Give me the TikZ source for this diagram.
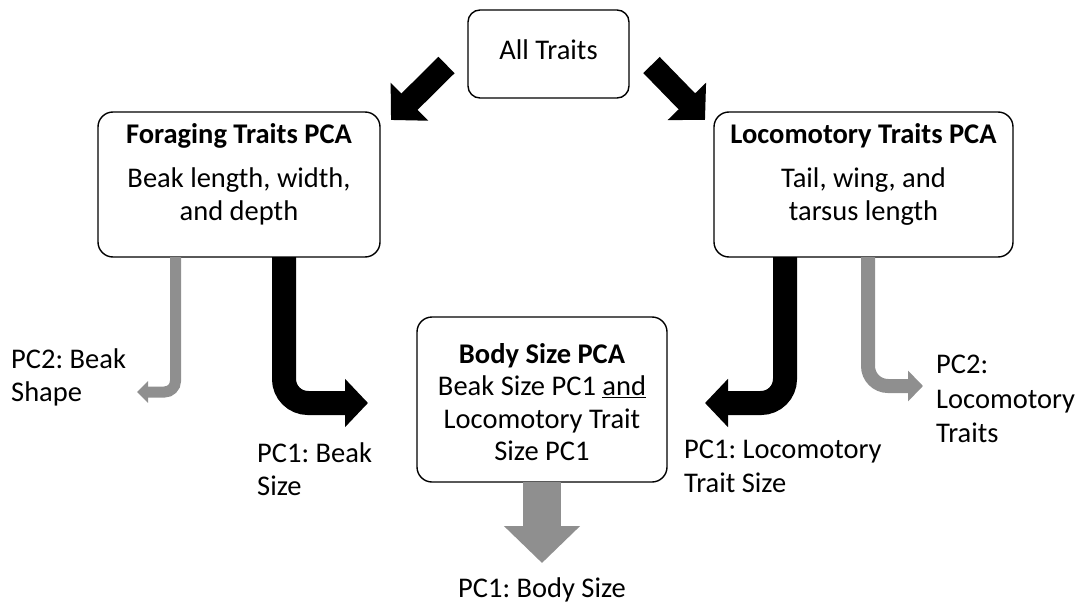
\documentclass[tikz,border=0pt]{standalone}
\usepackage{fontspec}
\setmainfont{Carlito}
\usetikzlibrary{arrows.meta}
\definecolor{pcgray}{RGB}{143,143,143}
\frenchspacing
\begin{document}
\begin{tikzpicture}[x=1pt,y=-1pt,
  box/.style={draw=black,line width=1.4pt,rounded corners=15pt,fill=white,inner sep=0pt},
  ln/.style={font=\fontsize{28.5}{34}\selectfont,inner sep=0pt,anchor=base},
  lnl/.style={ln,anchor=base west},
  diagarrow/.style={draw=black,line width=23pt,-{Triangle[length=26pt,width=52pt]}},
  bentblack/.style={draw=black,line width=24pt,rounded corners=24pt,-{Triangle[length=23pt,width=47pt]}},
  bentgray/.style={draw=pcgray,line width=#1,rounded corners=14pt}
]
\useasboundingbox (0,0) rectangle (1081,607);

% boxes
\node[box,rounded corners=12pt,minimum width=161pt,minimum height=88pt] (all) at (548.5,54) {};
\node[box,minimum width=282pt,minimum height=145pt] (forage) at (239,184.5) {};
\node[box,minimum width=299pt,minimum height=145pt] (loco) at (863.5,184.5) {};
\node[box,minimum width=250pt,minimum height=165pt] (body) at (542,399.5) {};

% label coordinates
\coordinate (diagLt) at (446.5,65);
\coordinate (diagLh) at (391,120);
\coordinate (diagRt) at (651.5,65);
\coordinate (diagRh) at (705,120);

% diagonal arrows
\draw[diagarrow] (diagLt) -- (diagLh);
\draw[diagarrow] (diagRt) -- (diagRh);

% text
\node[ln] (allT) at (548.5,60) {All Traits};
\node[ln] (f1) at (239,143) {\textbf{Foraging Traits PCA}};
\node[ln] (f2) at (239,187) {Beak length, width,};
\node[ln] (f3) at (239,220) {and depth};
\node[ln] (l1) at (863.5,143) {\textbf{Locomotory Traits PCA}};
\node[ln] (l2) at (863.5,187) {Tail, wing, and};
\node[ln] (l3) at (863.5,220) {tarsus length};
\node[ln] (b1) at (542,363) {\textbf{Body Size PCA}};
\node[ln] (b2) at (542,395.5) {Beak Size PC1 \underline{and}};
\node[ln] (b3) at (542,428) {Locomotory Trait};
\node[ln] (b4) at (542,460) {Size PC1};

\node[lnl] (pc2b) at (11,368) {PC2: Beak};
\node[lnl] (pc2b2) at (11,401) {Shape};
\node[lnl] (pc1b) at (257,462) {PC1: Beak};
\node[lnl] (pc1b2) at (257,495) {Size};
\node[lnl] (pc1l) at (684,458) {PC1: Locomotory};
\node[lnl] (pc1l2) at (684,492) {Trait Size};
\node[lnl] (pc2l) at (936,373) {PC2:};
\node[lnl] (pc2l2) at (936,408) {Locomotory};
\node[lnl] (pc2l3) at (936,442) {Traits};
\node[ln] (pc1body) at (542,597) {PC1: Body Size};

% tips
\coordinate (tipPC2b) at (137,392);
\coordinate (tipPC1b) at (368,403);
\coordinate (tipPC1l) at (705,403);
\coordinate (tipPC2l) at (923,386);

% bent arrows
\draw[bentblack] ([xshift=45pt,yshift=0.7pt]forage.south) -- ++(0,146) -- (tipPC1b);
\draw[bentblack] ([xshift=-78.5pt,yshift=0.7pt]loco.south) -- ++(0,146) -- (tipPC1l);
\draw[bentgray=11pt,rounded corners=11pt,-{Triangle[length=11pt,width=21pt]}]
  ([xshift=-63.5pt,yshift=0.7pt]forage.south) -- ++(0,135) -- (tipPC2b);
\draw[bentgray=14pt,rounded corners=20pt,-{Triangle[length=15pt,width=30pt]}]
  ([xshift=4.5pt,yshift=0.7pt]loco.south) -- ++(0,129) -- (tipPC2l);

% bottom arrow
\draw[draw=pcgray,line width=38pt,-{Triangle[length=37pt,width=74pt]}]
  ([yshift=0.7pt]body.south) -- (542,563);
\end{tikzpicture}
\end{document}
